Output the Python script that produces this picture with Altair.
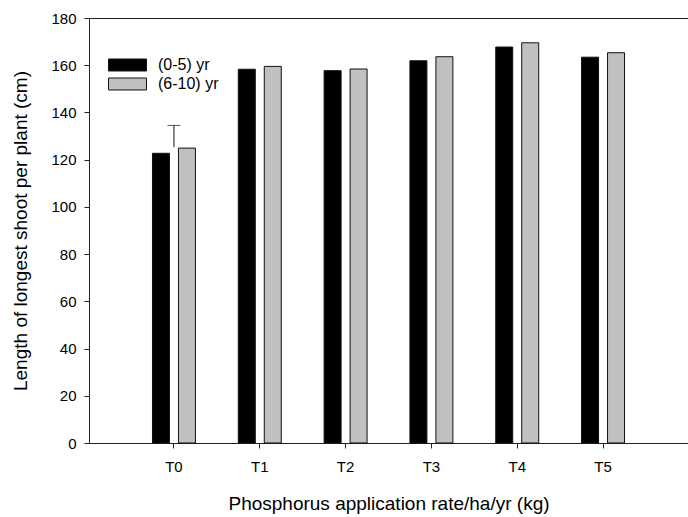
import altair as alt
import pandas as pd

cats = ["T0", "T1", "T2", "T3", "T4", "T5"]
groups = ["(0-5) yr", "(6-10) yr"]
vals_a = [122.7, 158.3, 157.7, 161.9, 167.7, 163.4]
vals_b = [124.9, 159.5, 158.4, 163.6, 169.5, 165.3]
err_cat = ["T0"]
err_low = [125.3]
err_high = [134.5]

rows = []
for c, a, b in zip(cats, vals_a, vals_b):
    rows.append({"cat": c, "grp": groups[0], "val": a})
    rows.append({"cat": c, "grp": groups[1], "val": b})
df = pd.DataFrame(rows)
edf = pd.DataFrame({"cat": err_cat, "lo": err_low, "hi": err_high})

FONT = "Liberation Sans"

xscale = alt.Scale(domain=cats, paddingInner=0, paddingOuter=0.49)
yscale = alt.Scale(domain=[0, 180], nice=False)

yaxis = alt.Axis(title="Length of longest shoot per plant (cm)", values=list(range(0, 181, 20)),
                 tickSize=5, labelPadding=8, titlePadding=20,
                 labelFontSize=15, titleFontSize=19, labelFont=FONT, titleFont=FONT,
                 labelColor="black", titleColor="black", titleFontWeight="normal",
                 domainColor="#222", tickColor="#222", grid=False)

bars = alt.Chart(df).mark_bar(stroke="#111", strokeWidth=1, opacity=1).encode(
    x=alt.X("cat:N", scale=xscale, sort=cats,
            axis=alt.Axis(title="Phosphorus application rate/ha/yr (kg)", labelAngle=0,
                          tickSize=5, labelPadding=11, titlePadding=20,
                          labelFontSize=15, titleFontSize=19, labelFont=FONT, titleFont=FONT,
                          labelColor="black", titleColor="black", titleFontWeight="normal",
                          domainColor="#222", tickColor="#222", grid=False)),
    xOffset=alt.XOffset("grp:N", scale=alt.Scale(domain=groups, paddingInner=0.346, paddingOuter=0.825)),
    y=alt.Y("val:Q", scale=yscale, axis=yaxis),
    color=alt.Color("grp:N", scale=alt.Scale(domain=groups, range=["#000000", "#c0c0c0"]),
                    legend=alt.Legend(title=None, orient="none", legendX=27.5, legendY=36,
                                      symbolType="M-1.81,-0.57L1.81,-0.57L1.81,0.57L-1.81,0.57Z",
                                      symbolSize=441, symbolStrokeColor="#111", symbolStrokeWidth=1,
                                      symbolOpacity=1, labelOffset=19.5, rowPadding=0, padding=0,
                                      labelFontSize=16, labelFont=FONT, labelColor="black")),
)

err = alt.Chart(edf).mark_rule(color="#111", strokeWidth=1).encode(
    x=alt.X("cat:N", scale=xscale, sort=cats,
            axis=alt.Axis(orient="top", labels=False, ticks=False, title=None, domain=True,
                          domainColor="#222", grid=False)),
    y=alt.Y("lo:Q", scale=yscale, axis=yaxis),
    y2="hi:Q",
)

cap = alt.Chart(edf).mark_tick(color="#111", thickness=1, size=13).encode(
    x=alt.X("cat:N", scale=xscale, sort=cats, axis=None),
    y=alt.Y("hi:Q", scale=yscale, axis=yaxis),
)

chart = alt.layer(bars, err, cap).resolve_axis(x="independent").properties(
    width=599, height=425,
    autosize=alt.AutoSizeParams(type="none"),
    padding={"left": 89, "top": 18, "right": 0, "bottom": 74},
    background="white",
).configure_view(strokeWidth=0)

chart.save("out.html", embed_options={"renderer": "svg", "actions": False})
